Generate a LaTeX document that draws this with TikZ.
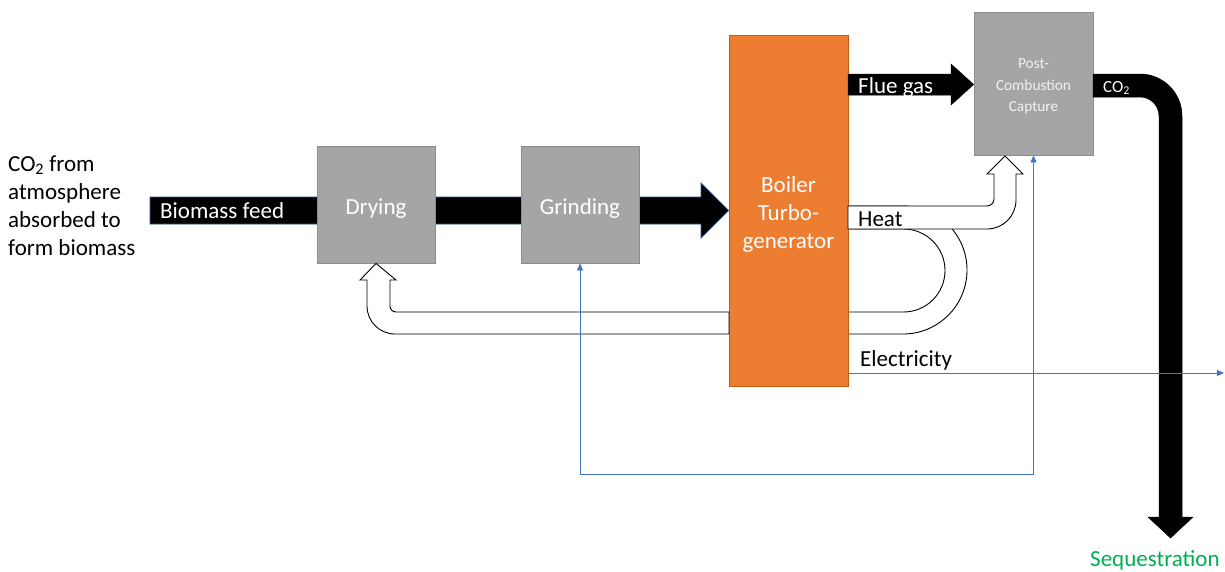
\documentclass[tikz,border=0pt]{standalone}
\usepackage{fontspec}
\setmainfont{Carlito}
\usetikzlibrary{arrows.meta}
\definecolor{boxgray}{HTML}{A5A5A5}
\definecolor{boxedge}{HTML}{8C8C8C}
\definecolor{boilerorange}{HTML}{ED7D31}
\definecolor{boileredge}{HTML}{C55A11}
\definecolor{linkblue}{HTML}{4472C4}
\definecolor{feededge}{HTML}{2F528F}
\definecolor{seqgreen}{HTML}{00B050}
\pgfdeclarelayer{background}
\pgfdeclarelayer{foreground}
\pgfsetlayers{background,main,foreground}

\begin{document}
\begin{tikzpicture}[x=1pt,y=-1pt,
  bigfont/.style={font=\fontsize{23}{28}\selectfont},
  unit/.style={draw=boxedge, fill=boxgray, line width=0.8pt, inner sep=0pt},
  boilerbox/.style={draw=boileredge, fill=boilerorange, line width=0.8pt, inner sep=0pt},
  unittext/.style={text=white, inner sep=0pt, align=center, bigfont},
  solidflow/.style={fill=black, draw=feededge, line width=0.8pt},
  hollowflow/.style={fill=white, draw=black, line width=0.9pt},
  label/.style={inner sep=0pt, anchor=base west, bigfont},
  signal/.style={draw=linkblue, line width=0.8pt, -{Triangle[length=7pt,width=6pt]}},
]
\useasboundingbox (0,0) rectangle (1225,571);

% process units
\node[unit, minimum width=118pt, minimum height=117pt] (drying) at (376,204.5) {};
\node[unit, minimum width=118pt, minimum height=117pt] (grinding) at (580,204.5) {};
\node[boilerbox, minimum width=119pt, minimum height=351pt] (boiler) at (788.5,210.5) {};
\node[unit, minimum width=119pt, minimum height=143pt] (capture) at (1033.5,83.5) {};

\node[unittext] (dryingtext) at ([yshift=-4pt]drying.center) {Drying};
\node[unittext] (grindingtext) at ([yshift=-4pt]grinding.center) {Grinding};
\node[unittext] (boilertext) at ([yshift=-3.5pt]boiler.center) {Boiler\\Turbo-\\generator};
\node[unittext, font=\fontsize{15.3}{21.5}\selectfont, text=white!95!black] (capturetext)
  at ([yshift=-3pt]capture.center) {Post-\\Combustion\\Capture};

% biomass feed line and heat return loop, behind the units
\begin{pgfonlayer}{background}
  \draw[solidflow] (150,197) -- (701,197) -- (701,183) -- (boiler.west |- 0,210.5)
    -- (701,238) -- (701,224) -- (150,224) -- cycle;
  \draw[hollowflow] (848,206) -- (903,206) arc[start angle=-90, end angle=90, radius=64]
    -- (848,334) -- (848,312) -- (903.5,312) arc[start angle=90, end angle=-90, radius=41.5]
    -- (848,229) -- cycle;
\end{pgfonlayer}

\begin{pgfonlayer}{foreground}
  % heat back to the dryer
  \draw[hollowflow] (729,312) -- (396,312) arc[start angle=90, end angle=180, radius=6]
    -- (390,280) -- (396,280) -- (drying.south) -- (360,280) -- (367,280) -- (367,306)
    arc[start angle=180, end angle=90, radius=28] -- (729,334) -- cycle;
  % heat to the capture unit
  \draw[hollowflow] (848,206) -- (987,206) arc[start angle=90, end angle=0, radius=7]
    -- (994,174) -- (987,174) -- (1005,156) -- (1023,174) -- (1016,174) -- (1016,200)
    arc[start angle=0, end angle=90, radius=29] -- (848,229) -- cycle;
  % flue gas
  \draw[fill=black, draw=black, line width=0.5pt] (848,74) -- (951,74) -- (951,64)
    -- (capture.west |- 0,84.5) -- (951,105) -- (951,95) -- (848,95) -- cycle;
  % captured CO2 to sequestration
  \draw[fill=black, draw=black, line width=0.5pt] (1093,74) -- (1140,74)
    arc[start angle=-90, end angle=0, radius=42] -- (1182,517) -- (1193,517)
    -- (1170.5,538) -- (1148,517) -- (1159,517) -- (1159,116)
    arc[start angle=0, end angle=-90, radius=19] -- (1093,97) -- cycle;

  % electricity export and power to grinding / capture
  \coordinate (elecend) at (1224,373);
  \coordinate (powerjoin) at (580,474);
  \draw[signal] (boiler.east |- elecend) -- (elecend);
  \draw[signal, {Triangle[length=7pt,width=6pt]}-{Triangle[length=7pt,width=6pt]}]
    (grinding.south) -- (powerjoin) -| (capture.south);

  % labels
  \node[label, align=left] (source) at (8,255) {CO\textsubscript{2} from\\atmosphere\\absorbed to\\form biomass};
  \node[label, text=white] (feedlbl) at (160,218) {Biomass feed};
  \node[label, text=white] (fluelbl) at (858,93) {Flue gas};
  \node[label] (heatlbl) at (858,226) {Heat};
  \node[label] (eleclbl) at (860,366) {Electricity};
  \node[label, text=white, font=\fontsize{17}{20}\selectfont] (co2lbl) at (1103,92) {CO\textsubscript{2}};
  \node[label, text=seqgreen] (seqlbl) at (1090,566) {Sequestration};
\end{pgfonlayer}
\end{tikzpicture}
\end{document}
